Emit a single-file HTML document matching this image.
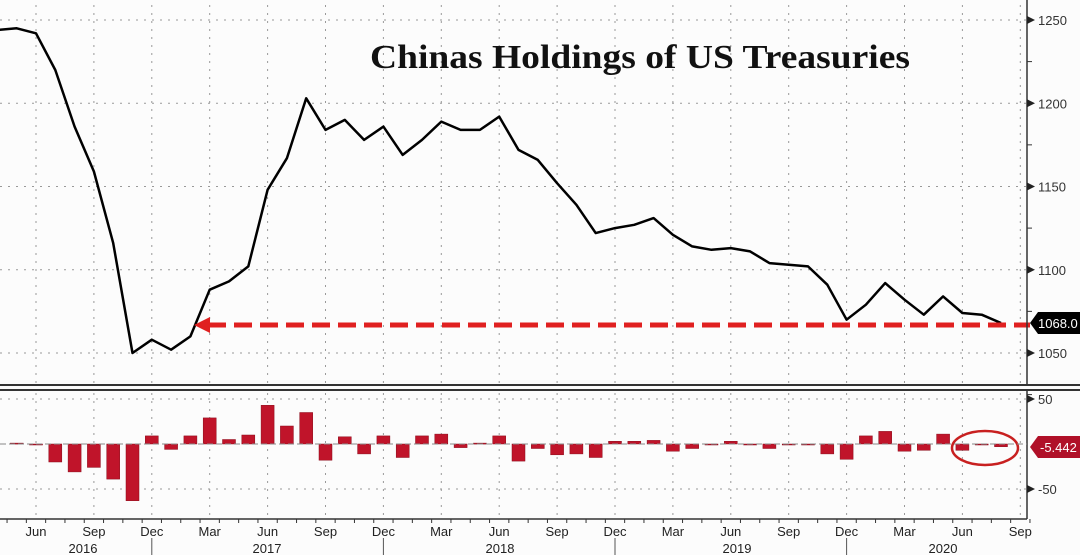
<!DOCTYPE html>
<html><head><meta charset="utf-8"><style>
body{margin:0;background:#fff;}
svg{display:block;font-family:"Liberation Sans",sans-serif;}
</style></head><body>
<svg id="chart" width="1080" height="555" viewBox="0 0 1080 555">
<rect x="0" y="0" width="1080" height="555" fill="#fcfcfc"/>
<g id="grid"></g>
<text x="370" y="68" textLength="540" lengthAdjust="spacingAndGlyphs" font-family="Liberation Serif, serif" font-weight="bold" font-size="34" fill="#111">Chinas Holdings of US Treasuries</text>
<g id="bars"></g>
<path id="line" fill="none" stroke="#000" stroke-width="2.5" stroke-linejoin="round"/>
<line x1="208" y1="325" x2="1030" y2="325" stroke="#e02020" stroke-width="5" stroke-dasharray="18,8"/>
<polygon points="194,325 210,317 210,333" fill="#e02020"/>
<ellipse cx="985" cy="448" rx="33" ry="17" fill="none" stroke="#c82020" stroke-width="2.5"/>
<g id="axes"></g>
</svg>
<script>
const months=["Apr16","May16","Jun16","Jul16","Aug16","Sep16","Oct16","Nov16","Dec16","Jan17","Feb17","Mar17","Apr17","May17","Jun17","Jul17","Aug17","Sep17","Oct17","Nov17","Dec17","Jan18","Feb18","Mar18","Apr18","May18","Jun18","Jul18","Aug18","Sep18","Oct18","Nov18","Dec18","Jan19","Feb19","Mar19","Apr19","May19","Jun19","Jul19","Aug19","Sep19","Oct19","Nov19","Dec19","Jan20","Feb20","Mar20","Apr20","May20","Jun20","Jul20","Aug20"];
const holdings=[1244,1245,1242,1220,1186,1159,1116,1050,1058,1052,1060,1088,1093,1102,1148,1167,1203,1184,1190,1178,1186,1169,1178,1189,1184,1184,1192,1172,1166,1152,1139,1122,1125,1127,1131,1121,1114,1112,1113,1111,1104,1103,1102,1091,1070,1079,1092,1082,1073,1084,1074,1073,1068];
const changes=[null,1,-1,-20,-31,-26,-39,-63,9,-6,9,29,5,10,43,20,35,-18,8,-11,9,-15,9,11,-4,1,9,-19,-5,-12,-11,-15,3,3,4,-8,-5,-1,3,-1,-5,0,0,-11,-17,9,14,-8,-7,11,-7,0,-3];
const upperTicks=[1050,1100,1150,1200,1250];
const lowerTicks=[-50,50];
const tickMonths=["Jun","Sep","Dec","Mar"];
const years=["2016","2017","2018","2019","2020"];
const NS="http://www.w3.org/2000/svg";
const xm=i=>36+(i-2)*19.3;
const yu=v=>20+(1250-v)*(333/200);
const yl=v=>444-v*0.9;
function mk(tag,attrs,parent){const e=document.createElementNS(NS,tag);for(const k in attrs)e.setAttribute(k,attrs[k]);parent.appendChild(e);return e;}
const grid=document.getElementById('grid'),axes=document.getElementById('axes'),bars=document.getElementById('bars');
upperTicks.forEach(v=>{const l=mk('line',{x1:0,x2:1027,y1:yu(v),y2:yu(v),stroke:'#999','stroke-dasharray':'2,6'},grid);

});
lowerTicks.forEach(v=>{const l=mk('line',{x1:0,x2:1027,y1:yl(v),y2:yl(v),stroke:'#999','stroke-dasharray':'2,6'},grid);

});
for(let i=2;i<months.length+1;i+=3){const x=xm(i);
const g1=mk('line',{x1:x,x2:x,y1:5,y2:383,stroke:'#999','stroke-dasharray':'2,6'},grid);


const g2=mk('line',{x1:x,x2:x,y1:393,y2:519,stroke:'#999','stroke-dasharray':'2,6'},grid);


const t=mk('text',{x:x,y:536,'text-anchor':'middle','font-size':13,fill:'#222'},axes);
t.textContent=tickMonths[((i-2)/3)%4];

}
for(let i=0;i<=53;i++){const x=xm(i)+9.65;const tk=mk('line',{x1:x,x2:x,y1:519,y2:523,stroke:'#333'},axes);

}
[8,20,32,44].forEach(p=>{const s=mk('line',{x1:xm(p),x2:xm(p),y1:538,y2:555,stroke:'#555'},axes);

});
const yearX=[83,267,500,737,943];
years.forEach((y,k)=>{const t=mk('text',{x:yearX[k],y:553,'text-anchor':'middle','font-size':13,fill:'#222'},axes);t.textContent=y;

});
[['line',{x1:1027,x2:1027,y1:0,y2:385,stroke:'#333','stroke-width':1.5}],['line',{x1:1027,x2:1027,y1:391,y2:519,stroke:'#333','stroke-width':1.5}],['line',{x1:0,x2:1080,y1:385,y2:385,stroke:'#333','stroke-width':2}],['line',{x1:0,x2:1080,y1:390,y2:390,stroke:'#333','stroke-width':2}],['line',{x1:0,x2:1027,y1:519,y2:519,stroke:'#333','stroke-width':1.5}],['line',{x1:0,x2:1027,y1:444,y2:444,stroke:'#888','stroke-dasharray':'6,3'}]].forEach(a=>{const e=mk(a[0],a[1],axes);

});
upperTicks.forEach(v=>{const y=yu(v);const p=mk('polygon',{points:`1027,${y-4} 1035,${y} 1027,${y+4}`,fill:'#222'},axes);


const t=mk('text',{x:1038,y:y+5,'font-size':13,fill:'#333'},axes);t.textContent=v;


const m=mk('line',{x1:1027,x2:1032,y1:y+41.6,y2:y+41.6,stroke:'#333'},axes);

});
lowerTicks.forEach(v=>{const y=yl(v);const p=mk('polygon',{points:`1027,${y-4} 1035,${y} 1027,${y+4}`,fill:'#222'},axes);


const t=mk('text',{x:1038,y:y+5,'font-size':13,fill:'#333'},axes);t.textContent=v;

});
changes.forEach((v,i)=>{if(v===null)return;const x=xm(i);const y0=yl(0),y1=yl(v);
const r=mk('rect',{x:x-6.5,y:Math.min(y0,y1),width:13,height:Math.max(1,Math.abs(y1-y0)),fill:'#c0142a',stroke:'#8a0a1a','stroke-width':0.5},bars);

});
document.getElementById('line').setAttribute('d',holdings.map((v,i)=>(i?'L':'M')+xm(i).toFixed(1)+','+yu(v).toFixed(1)).join(''));
const last=holdings[holdings.length-1],ly=yu(last);
const lb=mk('polygon',{points:`1030,${ly} 1038,${ly-11} 1080,${ly-11} 1080,${ly+11} 1038,${ly+11}`,fill:'#000'},axes);


const lt=mk('text',{x:1038,y:ly+5,'font-size':13,fill:'#fff'},axes);lt.textContent=last.toFixed(1);


const cy=yl(0)+3;
const cb=mk('polygon',{points:`1030,${cy} 1038,${cy-11} 1080,${cy-11} 1080,${cy+11} 1038,${cy+11}`,fill:'#b01028'},axes);


const ct=mk('text',{x:1040,y:cy+5,'font-size':13,fill:'#fff'},axes);ct.textContent='-5.442';


</script>
</body></html>
